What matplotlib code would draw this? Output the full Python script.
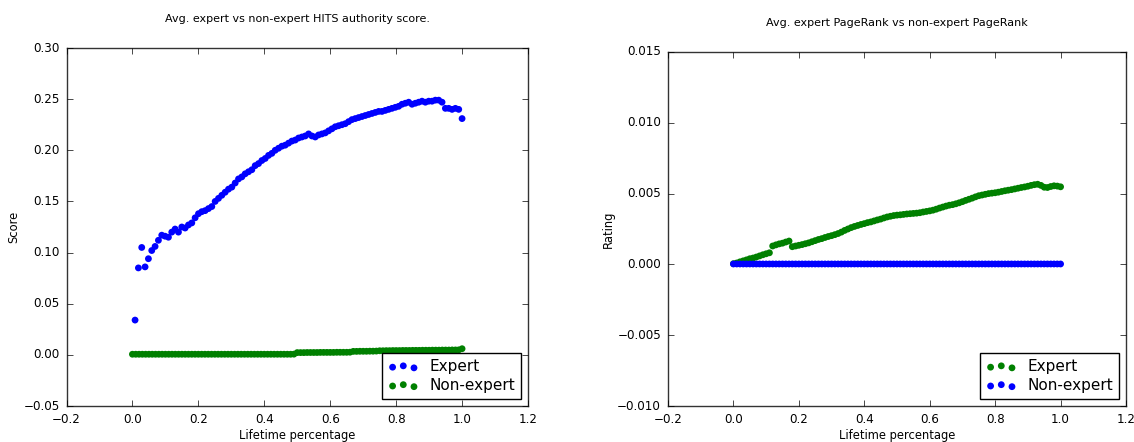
import numpy as np
import matplotlib
matplotlib.use("Agg")
import matplotlib.pyplot as plt

plt.style.use("classic")
plt.rcParams["figure.facecolor"] = "white"
plt.rcParams["savefig.facecolor"] = "white"
plt.rcParams["font.family"] = ["DejaVu Sans"]
plt.rcParams["font.size"] = 8.6

# ---------------- data ----------------
hits_expert = [
    0.034, 0.085, 0.105, 0.086, 0.094, 0.102, 0.106, 0.112, 0.117, 0.116,
    0.115, 0.120, 0.123, 0.120, 0.125, 0.124, 0.127, 0.129, 0.134, 0.138,
    0.140, 0.141, 0.143, 0.145, 0.150, 0.153, 0.156, 0.159, 0.162, 0.164,
    0.168, 0.172, 0.174, 0.177, 0.179, 0.181, 0.185, 0.187, 0.190, 0.192,
    0.195, 0.197, 0.200, 0.202, 0.204, 0.205, 0.207, 0.209, 0.210, 0.212,
    0.213, 0.214, 0.216, 0.214, 0.213, 0.215, 0.216, 0.217, 0.219, 0.221,
    0.223, 0.224, 0.225, 0.226, 0.228, 0.230, 0.231, 0.232, 0.233, 0.234,
    0.235, 0.236, 0.237, 0.238, 0.238, 0.239, 0.240, 0.241, 0.242, 0.243,
    0.245, 0.246, 0.247, 0.245, 0.246, 0.247, 0.248, 0.247, 0.248, 0.248,
    0.249, 0.249, 0.247, 0.241, 0.241, 0.240, 0.241, 0.240, 0.231,
]

hits_nonexpert = [
    0.0006, 0.0006, 0.0006, 0.0006, 0.0006, 0.0006, 0.0006, 0.0006, 0.0006, 0.0006,
    0.0006, 0.0006, 0.0006, 0.0006, 0.0006, 0.0006, 0.0006, 0.0006, 0.0006, 0.0006,
    0.0006, 0.0006, 0.0006, 0.0006, 0.0006, 0.0006, 0.0006, 0.0006, 0.0006, 0.0006,
    0.0006, 0.0006, 0.0006, 0.0006, 0.0006, 0.0006, 0.0006, 0.0006, 0.0006, 0.0006,
    0.0006, 0.0006, 0.0006, 0.0006, 0.0006, 0.0006, 0.0006, 0.0006, 0.0006, 0.0007,
    0.0022, 0.0022, 0.0022, 0.0023, 0.0023, 0.0023, 0.0023, 0.0024, 0.0024, 0.0024,
    0.0024, 0.0024, 0.0025, 0.0025, 0.0025, 0.0025, 0.0026, 0.0034, 0.0034, 0.0035,
    0.0035, 0.0035, 0.0036, 0.0036, 0.0037, 0.0040, 0.0040, 0.0041, 0.0041, 0.0042,
    0.0042, 0.0042, 0.0043, 0.0043, 0.0043, 0.0044, 0.0044, 0.0044, 0.0045, 0.0045,
    0.0045, 0.0046, 0.0046, 0.0046, 0.0047, 0.0047, 0.0047, 0.0048, 0.0048, 0.0049,
    0.0060,
]

pr_expert = [
    0.00005, 0.00010, 0.00018, 0.00025, 0.00032, 0.00040, 0.00045, 0.00052, 0.00060, 0.00068,
    0.00075, 0.00082, 0.00130, 0.00138, 0.00145, 0.00150, 0.00158, 0.00165, 0.00125, 0.00130,
    0.00135, 0.00140, 0.00146, 0.00152, 0.00160, 0.00168, 0.00176, 0.00182, 0.00190, 0.00197,
    0.00203, 0.00210, 0.00218, 0.00228, 0.00240, 0.00250, 0.00260, 0.00268, 0.00275, 0.00282,
    0.00288, 0.00295, 0.00300, 0.00307, 0.00314, 0.00320, 0.00328, 0.00335, 0.00340, 0.00345,
    0.00348, 0.00350, 0.00353, 0.00356, 0.00358, 0.00360, 0.00362, 0.00365, 0.00370, 0.00374,
    0.00378, 0.00383, 0.00390, 0.00398, 0.00405, 0.00412, 0.00418, 0.00422, 0.00428, 0.00435,
    0.00443, 0.00452, 0.00460, 0.00468, 0.00477, 0.00485, 0.00490, 0.00495, 0.00500, 0.00503,
    0.00506, 0.00510, 0.00515, 0.00520, 0.00524, 0.00528, 0.00533, 0.00538, 0.00543, 0.00547,
    0.00552, 0.00558, 0.00563, 0.00566, 0.00558, 0.00545, 0.00543, 0.00550, 0.00555, 0.00553,
    0.00548,
]

pr_nonexpert = [
    0.00003, 0.00003, 0.00003, 0.00003, 0.00003, 0.00003, 0.00003, 0.00003, 0.00003, 0.00003,
    0.00003, 0.00003, 0.00003, 0.00003, 0.00003, 0.00003, 0.00003, 0.00003, 0.00003, 0.00003,
    0.00003, 0.00003, 0.00003, 0.00003, 0.00003, 0.00003, 0.00003, 0.00003, 0.00003, 0.00003,
    0.00003, 0.00003, 0.00003, 0.00003, 0.00003, 0.00003, 0.00003, 0.00003, 0.00003, 0.00003,
    0.00003, 0.00003, 0.00003, 0.00003, 0.00003, 0.00003, 0.00003, 0.00003, 0.00003, 0.00003,
    0.00003, 0.00003, 0.00003, 0.00003, 0.00003, 0.00003, 0.00003, 0.00003, 0.00003, 0.00003,
    0.00003, 0.00003, 0.00003, 0.00003, 0.00003, 0.00003, 0.00003, 0.00003, 0.00003, 0.00003,
    0.00003, 0.00003, 0.00003, 0.00003, 0.00003, 0.00003, 0.00003, 0.00003, 0.00003, 0.00003,
    0.00003, 0.00003, 0.00003, 0.00003, 0.00003, 0.00003, 0.00003, 0.00003, 0.00003, 0.00003,
    0.00003, 0.00003, 0.00003, 0.00003, 0.00003, 0.00003, 0.00003, 0.00003, 0.00003, 0.00003,
    0.00003,
]

x_hits_expert = np.linspace(0.008, 1.0, len(hits_expert))
x_full = np.linspace(0.0, 1.0, len(pr_expert))

left_title = "Avg. expert vs non-expert HITS authority score."
right_title = "Avg. expert PageRank vs non-expert PageRank"

# ---------------- figure ----------------
fig = plt.figure(figsize=(11.34, 4.42), dpi=100)
W, H = 1134, 442
ax1 = fig.add_axes([66.5 / W, 1 - 406 / H, (528 - 66.5) / W, (406 - 48) / H])
ax2 = fig.add_axes([668 / W, 1 - 406 / H, (1126 - 668) / W, (406 - 52) / H])

ms = 24
ax1.scatter(x_hits_expert, hits_expert, s=ms, c=(0, 0, 1), edgecolors="none", label="Expert")
ax1.scatter(x_full, hits_nonexpert, s=ms, c=(0, 0.5, 0), edgecolors="none", label="Non-expert")
ax1.set_xlim(-0.2, 1.2)
ax1.set_ylim(-0.05, 0.30)
ax1.set_xticks([-0.2, 0.0, 0.2, 0.4, 0.6, 0.8, 1.0, 1.2])
ax1.set_yticks([-0.05, 0.0, 0.05, 0.10, 0.15, 0.20, 0.25, 0.30])
ax1.set_yticklabels(["\u22120.05", "0.00", "0.05", "0.10", "0.15", "0.20", "0.25", "0.30"])
ax1.set_xlabel("Lifetime percentage", fontsize=8.3, labelpad=2)
ax1.set_ylabel("Score", fontsize=8.3, labelpad=2)
ax1.set_title(left_title, fontsize=8.0, pad=19)

ax2.scatter(x_full, pr_expert, s=ms, c=(0, 0.5, 0), edgecolors="none", label="Expert")
ax2.scatter(x_full, pr_nonexpert, s=ms, c=(0, 0, 1), edgecolors="none", label="Non-expert")
ax2.set_xlim(-0.2, 1.2)
ax2.set_ylim(-0.010, 0.015)
ax2.set_xticks([-0.2, 0.0, 0.2, 0.4, 0.6, 0.8, 1.0, 1.2])
ax2.set_yticks([-0.010, -0.005, 0.0, 0.005, 0.010, 0.015])
ax2.set_yticklabels(["\u22120.010", "\u22120.005", "0.000", "0.005", "0.010", "0.015"])
ax2.set_xlabel("Lifetime percentage", fontsize=8.3, labelpad=2)
ax2.set_ylabel("Rating", fontsize=8.3, labelpad=2)
ax2.set_title(right_title, fontsize=8.0, pad=19)

for ax in (ax1, ax2):
    ax.tick_params(labelsize=8.6, direction="in", top=True, right=True, length=4, pad=5)
    for sp in ax.spines.values():
        sp.set_linewidth(1.0)
        sp.set_color("#333333")
    leg = ax.legend(loc="lower right", scatterpoints=3, fontsize=11, frameon=True,
                    fancybox=False, borderaxespad=0.45, handletextpad=0.7,
                    labelspacing=0.25, borderpad=0.4)
    leg.get_frame().set_edgecolor("black")
    leg.get_frame().set_linewidth(1.0)

fig.savefig("out.png", dpi=100)
